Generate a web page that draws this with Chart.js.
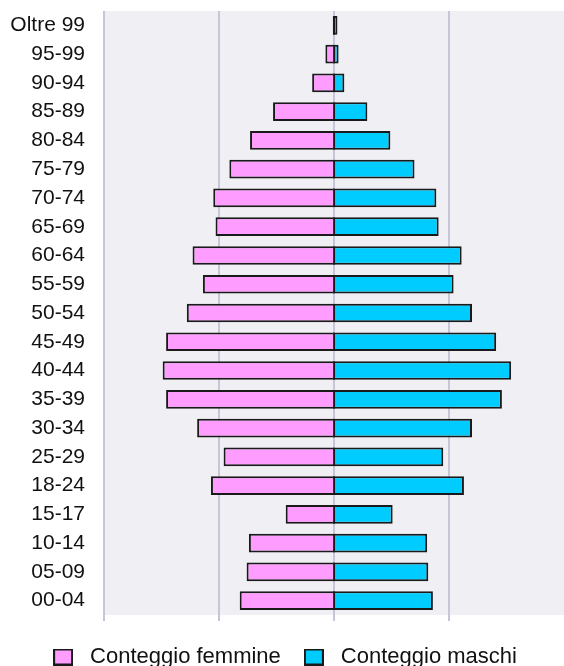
<!DOCTYPE html>
<html lang="it">
<head>
<meta charset="utf-8">
<title>Piramide per età</title>
<script src="https://cdn.jsdelivr.net/npm/chart.js@4.4.1/dist/chart.umd.min.js"></script>
<style>
    html, body { margin: 0; padding: 0; background: #fff; overflow: hidden; }
    #box { position: relative; width: 564px; height: 678px; }
</style>
</head>
<body>
<div id="box"><canvas id="grafico-piramide"></canvas></div>
<script>
// Classi di età (dall'alto verso il basso)
const classiEta = ['Oltre 99', '95-99', '90-94', '85-89', '80-84', '75-79', '70-74', '65-69',
    '60-64', '55-59', '50-54', '45-49', '40-44', '35-39', '30-34', '25-29', '18-24',
    '15-17', '10-14', '05-09', '00-04'];

// Conteggi (unità relative, una linea della griglia = 100)
const conteggioFemmine = [1, 7.5, 19, 53, 73, 91, 105, 103, 123, 114, 128, 146, 149, 146,
    119, 96, 107, 42, 74, 76, 82];
const conteggioMaschi = [3, 4, 9, 29, 49, 70, 89, 91, 111, 104, 120, 141, 154, 146,
    120, 95, 113, 51, 81, 82, 86];

const limiteAsse = 200;
const passoGriglia = 100;
const fonte = "'Liberation Sans', Arial, sans-serif";
const coloreBordo = '#1a1a1a';

// Quadratino della legenda (riempimento + bordo scuro)
function quadratinoLegenda(colore) {
    const c = document.createElement('canvas');
    c.width = 20;
    c.height = 17;
    const g = c.getContext('2d');
    g.fillStyle = colore;
    g.fillRect(0, 0, c.width, c.height);
    g.strokeStyle = coloreBordo;
    g.lineWidth = 2;
    g.strokeRect(1, 1, c.width - 2, c.height - 2);
    return c;
}

// Sfondo dell'area del grafico
const sfondoArea = {
    id: 'sfondoArea',
    beforeDraw(chart) {
        const { ctx, chartArea } = chart;
        ctx.save();
        ctx.fillStyle = '#efeff4';
        ctx.fillRect(chartArea.left, chartArea.top, chartArea.right - chartArea.left, chartArea.bottom - chartArea.top);
        ctx.restore();
    }
};

const ctx = document.getElementById('grafico-piramide').getContext('2d');
new Chart(ctx, {
    type: 'bar',
    data: {
        labels: classiEta,
        datasets: [
            {
                label: 'Conteggio femmine',
                data: conteggioFemmine.map(v => -v),
                base: 1, // le barre si toccano al centro, senza fessura
                backgroundColor: '#ff9cff',
                borderColor: coloreBordo,
                borderWidth: 2,
                borderSkipped: false,
                inflateAmount: 0,
                pointStyle: quadratinoLegenda('#ff9cff')
            },
            {
                label: 'Conteggio maschi',
                data: conteggioMaschi,
                base: -1,
                backgroundColor: '#00ccff',
                borderColor: coloreBordo,
                borderWidth: 2,
                borderSkipped: false,
                inflateAmount: 0,
                pointStyle: quadratinoLegenda('#00ccff')
            }
        ]
    },
    options: {
        indexAxis: 'y',
        responsive: true,
        maintainAspectRatio: false,
        animation: false,
        barPercentage: 0.65,
        categoryPercentage: 1,
        layout: { padding: { top: 11, right: 0, bottom: 0, left: 0 } },
        plugins: {
            tooltip: { enabled: false },
            legend: {
                position: 'bottom',
                labels: {
                    color: '#111',
                    font: { family: fonte, size: 22 },
                    usePointStyle: true,
                    pointStyleWidth: 32,
                    padding: 17
                }
            }
        },
        scales: {
            x: {
                stacked: true,
                min: -limiteAsse,
                max: limiteAsse,
                ticks: { display: false, stepSize: passoGriglia },
                border: { display: false },
                grid: {
                    color: c => (c.tick && c.tick.value === limiteAsse) ? 'rgba(0,0,0,0)' : '#c6c6d8',
                    lineWidth: 2,
                    drawTicks: true,
                    tickLength: 6
                },
                afterFit(scale) { scale.height = 14; }
            },
            y: {
                stacked: true,
                grid: { display: false, drawTicks: false },
                border: { display: false },
                ticks: {
                    color: '#111',
                    padding: 19,
                    autoSkip: false,
                    font: { family: fonte, size: 21 }
                },
                afterFit(scale) {
                    scale.width = 104;
                    scale.paddingTop = 0;
                    scale.paddingBottom = 0;
                }
            }
        }
    },
    plugins: [sfondoArea]
});
</script>
</body>
</html>
